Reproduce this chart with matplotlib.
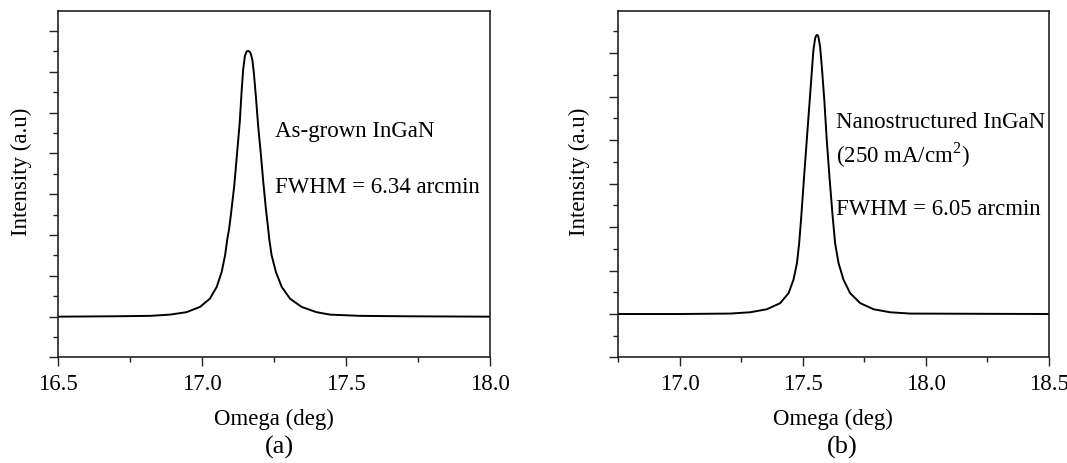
import matplotlib
matplotlib.use('Agg')
import matplotlib.pyplot as plt
from matplotlib.ticker import MultipleLocator, FormatStrFormatter

plt.rcParams['font.family'] = ['Liberation Serif', 'DejaVu Serif']
plt.rcParams['mathtext.fontset'] = 'custom'
plt.rcParams['mathtext.rm'] = 'Liberation Serif'
plt.rcParams['font.size'] = 16

# omega rocking curves, intensity in arbitrary units (baseline = 0)
omega_a = [16.50, 16.70, 16.819, 16.888, 16.946, 16.993, 17.027, 17.051,
           17.068, 17.080, 17.088, 17.094, 17.100, 17.112, 17.121, 17.131,
           17.138, 17.143, 17.149, 17.155, 17.161, 17.166, 17.170, 17.175,
           17.180, 17.187, 17.195, 17.205, 17.213, 17.222, 17.230, 17.234,
           17.242, 17.257, 17.277, 17.306, 17.346, 17.398, 17.445, 17.55,
           17.70, 18.00]
int_a = [0.00, 0.01, 0.02, 0.05, 0.11, 0.24, 0.44, 0.73,
         1.09, 1.50, 1.91, 2.15, 2.48, 3.21, 3.94, 4.76,
         5.57, 6.06, 6.39, 6.50, 6.51, 6.49, 6.43, 6.29,
         5.98, 5.41, 4.68, 3.94, 3.29, 2.64, 2.15, 1.88,
         1.50, 1.09, 0.73, 0.44, 0.24, 0.11, 0.05, 0.02,
         0.01, 0.00]

omega_b = [16.75, 17.00, 17.206, 17.287, 17.355, 17.409, 17.443, 17.463,
           17.477, 17.486, 17.494, 17.506, 17.517, 17.528, 17.538, 17.544,
           17.551, 17.555, 17.558, 17.561, 17.564, 17.571, 17.578, 17.588,
           17.598, 17.609, 17.622, 17.632, 17.646, 17.666, 17.693, 17.734,
           17.788, 17.855, 17.937, 18.50]
int_b = [0.00, 0.00, 0.01, 0.04, 0.11, 0.25, 0.48, 0.79,
         1.17, 1.63, 2.20, 3.16, 4.01, 4.85, 5.62, 6.08,
         6.34, 6.40, 6.42, 6.41, 6.38, 6.15, 5.69, 4.93,
         4.01, 3.16, 2.25, 1.63, 1.17, 0.79, 0.48, 0.25,
         0.11, 0.04, 0.01, 0.00]

xticks_a = [16.5, 17.0, 17.5, 18.0]
xticks_b = [17.0, 17.5, 18.0, 18.5]

W, H = 1067, 464
fig = plt.figure(figsize=(W / 100, H / 100), dpi=100)
ax_a = fig.add_axes([0.0546, 0.2274, 0.4043, 0.7468])
ax_b = fig.add_axes([0.5792, 0.2274, 0.4037, 0.7468])


def style_axes(ax, xlim, ylim, xticks):
    ax.set_xlim(xlim)
    ax.set_ylim(ylim)
    ax.set_xticks(xticks)
    ax.xaxis.set_major_formatter(FormatStrFormatter('%.1f'))
    ax.xaxis.set_minor_locator(MultipleLocator(0.25))
    ax.yaxis.set_major_locator(MultipleLocator(1))
    ax.yaxis.set_minor_locator(MultipleLocator(0.5))
    ax.tick_params(which='both', direction='out', top=False, right=False,
                   width=1.0, color='#222222')
    ax.tick_params(which='major', length=6.5)
    ax.tick_params(which='minor', length=3.5)
    ax.tick_params(axis='y', labelleft=False)
    ax.tick_params(axis='x', labelsize=16.5, pad=5)
    for s in ax.spines.values():
        s.set_linewidth(1.2)
        s.set_color('#222222')
    ax.set_xlabel('Omega (deg)', fontsize=16.5)
    ax.set_ylabel('Intensity (a.u)', fontsize=16.5)
    ax.xaxis.set_label_coords(0.5, -0.146)


def put_text(x, y, s, **kw):
    # place text by pixel position measured from the top-left corner
    fig.text(x / W, 1 - y / H, s, va='center', fontsize=16.5, **kw)


ax_a.plot(omega_a, int_a, color='black', lw=1.4)
style_axes(ax_a, (16.5, 18.0), (-1, 7.49), xticks_a)
ax_a.yaxis.set_label_coords(-0.060, 0.54)
put_text(275, 132, 'As-grown InGaN')
put_text(275, 188, 'FWHM = 6.34 arcmin')

ax_b.plot(omega_b, int_b, color='black', lw=1.4)
style_axes(ax_b, (16.75, 18.5), (-1, 6.97), xticks_b)
ax_b.yaxis.set_label_coords(-0.065, 0.54)
put_text(836, 122, 'Nanostructured InGaN')
put_text(836, 155, '(250 mA/cm$^2$)')
put_text(836, 210, 'FWHM = 6.05 arcmin')

put_text(279, 447, '(a)', ha='center')
put_text(842, 447, '(b)', ha='center')
for t in fig.texts[-2:]:
    t.set_fontsize(19)

fig.savefig('out.png', dpi=100)
